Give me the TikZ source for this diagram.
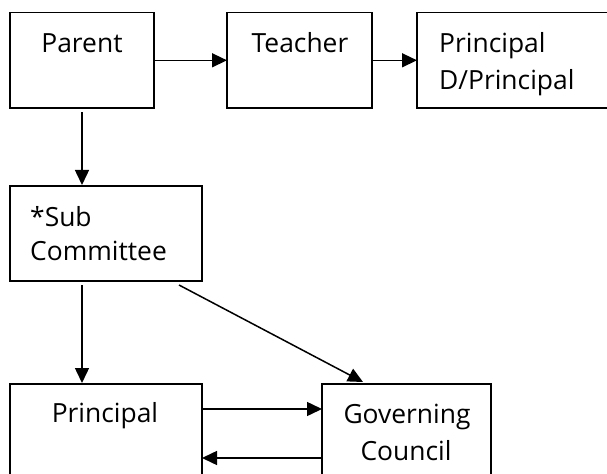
\documentclass[tikz,border=0pt]{standalone}
\usepackage{fontspec}
\setmainfont{Open Sans}
\usetikzlibrary{arrows.meta,calc}
\begin{document}
\begin{tikzpicture}[x=1bp,y=-1bp,
  box/.style={draw,line width=1.5bp,inner sep=0pt,outer sep=0pt},
  lbl/.style={inner sep=0pt,font=\fontsize{26.5}{36}\selectfont},
  conn/.style={line width=1.5bp,-{Triangle[length=15bp,width=14bp]}}]
\useasboundingbox (0,0) rectangle (607,474);
\clip (0,0) rectangle (607,474);
% boxes
\node[box,minimum width=144bp,minimum height=95.5bp] (parent) at (82,60.3) {};
\node[box,minimum width=145bp,minimum height=95.5bp] (teacher) at (299.5,60.3) {};
\node[box,minimum width=200bp,minimum height=95.5bp] (ptop) at (517,60.3) {};
\node[box,minimum width=192bp,minimum height=95bp] (sub) at (106,233.5) {};
\node[box,minimum width=192bp,minimum height=100bp] (prin) at (106,434) {};
\node[box,minimum width=169bp,minimum height=100bp] (gov) at (406.5,434) {};
% texts
\node[lbl,anchor=base] (tparent) at (82,53) {Parent};
\node[lbl,anchor=base] (tteacher) at (300,53) {Teacher};
\node[lbl,anchor=base west] (tptop1) at (439,53) {Principal};
\node[lbl,anchor=base west] (tptop2) at (439,90) {D/Principal};
\node[lbl,anchor=base west] (tsub1) at (30,227) {*Sub};
\node[lbl,anchor=base west] (tsub2) at (30,261) {Committee};
\node[lbl,anchor=base] (tprin) at (105,422) {Principal};
\node[lbl,anchor=base] (tgov1) at (407,423) {Governing};
\node[lbl,anchor=base] (tgov2) at (406,460) {Council};
% connectors
\draw[conn] (parent.east) -- (teacher.west);
\draw[conn] (teacher.east) -- (ptop.west);
\draw[conn,shorten <=4bp,shorten >=1bp] (parent.south) -- (parent.south |- sub.north);
\draw[conn,shorten <=4bp,shorten >=1bp] ($(sub.south west)+(72,0)$) -- ($(prin.north west)+(72,0)$);
\draw[conn] ($(sub.south east)+(-23,4)$) -- ($(gov.north west)+(41,-2)$);
\draw[conn] ($(prin.north east)+(0,25)$) -- ($(gov.north west)+(0,25)$);
\draw[conn] ($(gov.north west)+(0,74)$) -- ($(prin.north east)+(0,74)$);
\end{tikzpicture}
\end{document}
